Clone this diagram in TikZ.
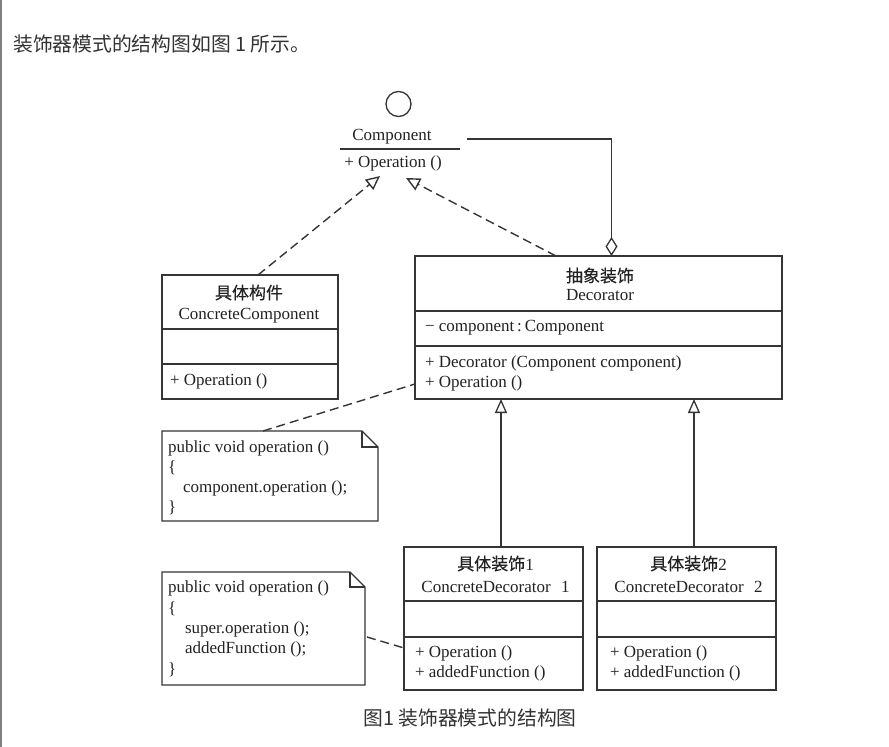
\documentclass[tikz,border=0pt]{standalone}
\usepackage{fontspec}
\setmainfont{Liberation Serif}
\newfontfamily\cjk{Noto Sans CJK SC}
\newfontfamily\cjkh[FakeBold=0.3]{Noto Sans CJK SC}
\usetikzlibrary{arrows.meta,calc}
\definecolor{ln}{HTML}{353535}
\definecolor{tx}{HTML}{222222}
\definecolor{pg}{HTML}{333333}
\definecolor{edge}{HTML}{808080}
\begin{document}
\begin{tikzpicture}[x=1pt,y=-1pt,
  box/.style={draw=ln,line width=1.3pt,inner sep=0pt,outer sep=0pt},
  lbl/.style={inner sep=0pt,outer sep=0pt,text=tx,font=\fontsize{17}{20}\selectfont},
  lbll/.style={lbl,anchor=base west},
  lblc/.style={lbl,anchor=base},
  conn/.style={draw=ln,line width=1.3pt},
  dashconn/.style={conn,line width=1.4pt,dash pattern=on 9pt off 5pt},
  realize/.style={dashconn,-{Triangle[open,length=14pt,width=13pt]}},
  inherit/.style={conn,-{Triangle[open,length=14pt,width=12pt]}},
  aggr/.style={conn,-{Diamond[open,length=19pt,width=12pt]}},
  page/.style={inner sep=0pt,text=pg,font=\cjk\fontsize{19.8}{22}\selectfont}
]
\path[fill=white] (0,0) rectangle (889,747);
\useasboundingbox (0,0) rectangle (889,747);
\draw[draw=edge,line width=1.5pt] (0.75,0) -- (0.75,747);

% intro and caption
\node[page,anchor=west] (intro) at (13,44) {装饰器模式的结构图如图 1 所示。};
\node[page] (cap) at (470,717.5) {图1 装饰器模式的结构图};

% interface Component
\node[draw=ln,line width=1.3pt,circle,minimum size=25pt,inner sep=0pt] (iface) at (398.5,104) {};
\node[lblc] (compname) at (392,140) {Component};
\coordinate (barl) at (340,149);
\coordinate (barr) at (460,149);
\draw[conn] (barl) -- (barr);
\node[lblc] (compop) at (393,167) {+ Operation ()};
\coordinate (tipL) at (380,176);
\coordinate (tipR) at (406,178);
\coordinate (compR) at (467,139);

% ConcreteComponent
\node[box,minimum width=176pt,minimum height=124pt] (cc) at (250,337) {};
\draw[conn] ([yshift=-54pt]cc.north west) -- ([yshift=-54pt]cc.north east);
\draw[conn] ([yshift=-89pt]cc.north west) -- ([yshift=-89pt]cc.north east);
\node[lblc] (cccn) at (249,299) {\cjkh 具体构件};
\node[lblc] (ccen) at (249,319) {ConcreteComponent};
\node[lbll] (ccop) at (170,385) {+ Operation ()};

% Decorator
\node[box,minimum width=367pt,minimum height=143pt] (dec) at (598.5,327.5) {};
\draw[conn] ([yshift=-55pt]dec.north west) -- ([yshift=-55pt]dec.north east);
\draw[conn] ([yshift=-90pt]dec.north west) -- ([yshift=-90pt]dec.north east);
\node[lblc] (deccn) at (600,282) {\cjkh 抽象装饰};
\node[lblc] (decen) at (600,300) {Decorator};
\node[lbll] (decat) at (425,331) {− component\,:\,Component};
\node[lbll] (decctor) at (425,367) {+ Decorator (Component component)};
\node[lbll] (decop) at (425,387) {+ Operation ()};

% Note 1
\node[inner sep=0pt,outer sep=0pt,minimum width=216pt,minimum height=90pt] (n1) at (270,476) {};
\draw[conn] (n1.north west) -- ($(n1.north east)+(-16,0)$) -- ($(n1.north east)+(0,16)$) -- (n1.south east) -- (n1.south west) -- cycle;
\draw[conn] ($(n1.north east)+(-16,0)$) -- ($(n1.north east)+(-16,16)$) -- ($(n1.north east)+(0,16)$);
\node[lbll] (n1a) at (168,452) {public void operation ()};
\node[lbll] (n1b) at (168,472) {\{};
\node[lbll] (n1c) at (183,492) {component.operation ();};
\node[lbll] (n1d) at (168,512) {\}};

% ConcreteDecorator 1
\node[box,minimum width=179pt,minimum height=143pt] (d1) at (493.5,618.5) {};
\draw[conn] ([yshift=-54pt]d1.north west) -- ([yshift=-54pt]d1.north east);
\draw[conn] ([yshift=-90pt]d1.north west) -- ([yshift=-90pt]d1.north east);
\node[lblc] (d1cn) at (495.5,570) {{\cjkh 具体装饰}1};
\node[lblc] (d1en) at (495.5,592) {ConcreteDecorator\hspace{0.6em}1};
\node[lbll] (d1op) at (415,657) {+ Operation ()};
\node[lbll] (d1af) at (415,677) {+ addedFunction ()};

% ConcreteDecorator 2
\node[box,minimum width=179pt,minimum height=143pt] (d2) at (686.5,618.5) {};
\draw[conn] ([yshift=-54pt]d2.north west) -- ([yshift=-54pt]d2.north east);
\draw[conn] ([yshift=-90pt]d2.north west) -- ([yshift=-90pt]d2.north east);
\node[lblc] (d2cn) at (688.5,570) {{\cjkh 具体装饰}2};
\node[lblc] (d2en) at (688.5,592) {ConcreteDecorator\hspace{0.6em}2};
\node[lbll] (d2op) at (610,657) {+ Operation ()};
\node[lbll] (d2af) at (610,677) {+ addedFunction ()};

% Note 2
\node[inner sep=0pt,outer sep=0pt,minimum width=203pt,minimum height=113pt] (n2) at (263.5,628.5) {};
\draw[conn] (n2.north west) -- ($(n2.north east)+(-15,0)$) -- ($(n2.north east)+(0,15)$) -- (n2.south east) -- (n2.south west) -- cycle;
\draw[conn] ($(n2.north east)+(-15,0)$) -- ($(n2.north east)+(-15,15)$) -- ($(n2.north east)+(0,15)$);
\node[lbll] (n2a) at (168,592) {public void operation ()};
\node[lbll] (n2b) at (168,613) {\{};
\node[lbll] (n2c) at (185,633) {super.operation ();};
\node[lbll] (n2d) at (185,653) {addedFunction ();};
\node[lbll] (n2e) at (168,674) {\}};

% connectors
\draw[realize] ([xshift=8pt]cc.north) -- (tipL);
\draw[realize] ([xshift=-42.5pt]dec.north) -- (tipR);
\draw[aggr] (compR) -| ([xshift=13pt]dec.north);
\draw[dashconn] ([xshift=-7pt]n1.north) -- ([yshift=-128pt]dec.north west);
\coordinate (d1t) at ([xshift=7.5pt]d1.north);
\coordinate (d2t) at ([xshift=7.5pt]d2.north);
\draw[inherit] (d1t) -- (d1t |- dec.south);
\draw[inherit] (d2t) -- (d2t |- dec.south);
\draw[dashconn] ([xshift=2pt,yshift=-65pt]n2.north east) -- ([yshift=-101pt]d1.north west);
\end{tikzpicture}
\end{document}
